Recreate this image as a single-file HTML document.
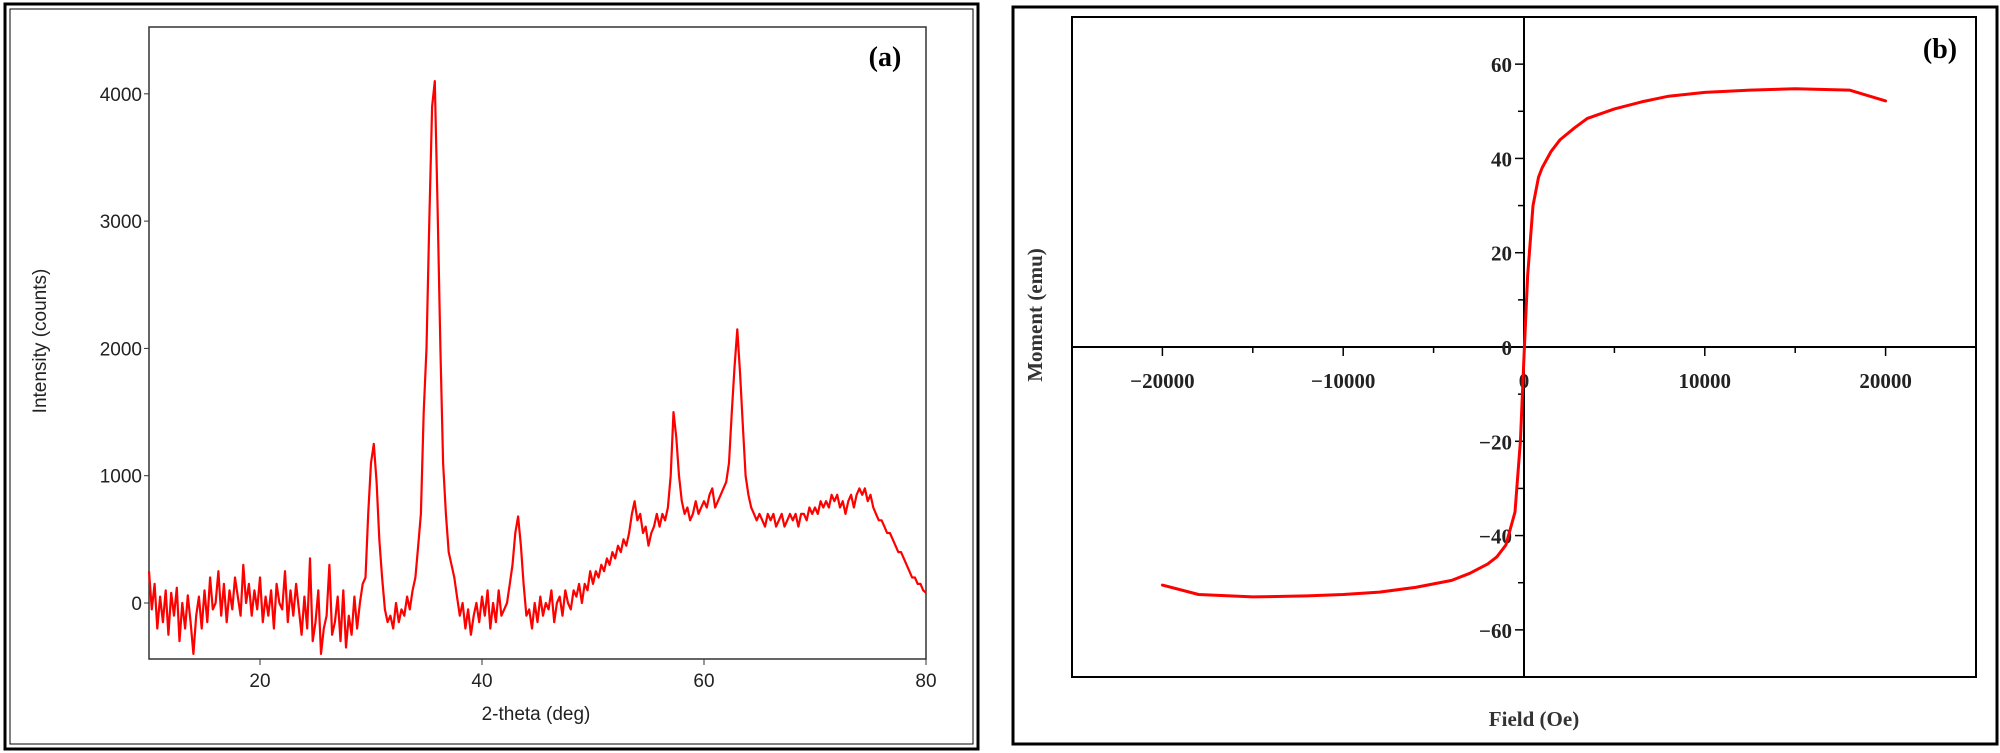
<!DOCTYPE html>
<html><head><meta charset="utf-8"><style>
html,body{margin:0;padding:0;background:#fff;}
svg{display:block;}
</style></head><body>
<svg id="fig" width="2000" height="753" xmlns="http://www.w3.org/2000/svg">
<rect x="0" y="0" width="2000" height="753" fill="#fff"/>
<rect x="5" y="4" width="973" height="745" fill="none" stroke="#000" stroke-width="3"/>
<rect x="10" y="9" width="963" height="735" fill="none" stroke="#000" stroke-width="1"/>
<rect x="1013" y="7" width="984" height="737" fill="none" stroke="#000" stroke-width="3"/>
<g id="ga"></g>
<g id="gb"></g>
</svg>
<script>
// ---- Panel (a) XRD data ----
const xrdStart = 10;
const xrdStep = 0.25;
const xrdIntensity = [
250,-50,150,-200, 50,-150,100,-250, 80,-100,120,-300, 0,-200,60,-150, -400,-100,50,-200,
100,-150,200,-50, 0,250,-100,150, -150,100,-50,200, 50,-100,300,0, 150,-100,100,-50,
200,-150,50,-100, 100,-200,150,0, -50,250,-150,100, -100,150,-50,-250, 50,-200,350,-300,
-150,100,-400,-200, -100,300,-250,-150, 50,-300,100,-350, -100,-250,50,-200, 0,150,200,700,
1100,1250,950,500, 200,-50,-150,-100, -200,0,-150,-50, -100,50,-50,100, 200,450,700,1500,
2000,3000,3900,4100, 3100,2000,1100,700, 400,300,200,50, -100,0,-200,-50, -250,-100,0,-150,
50,-100,100,-200, 0,-150,100,-100, -50,0,150,300, 550,680,450,150, -100,-50,-200,0,
-150,50,-100,0, -50,100,-150,0, 50,-100,100,0, -50,100,50,150, 0,150,100,250,
150,250,200,300, 250,350,300,400, 350,450,400,500, 450,550,700,800, 650,700,550,600,
450,550,600,700, 600,700,650,750, 1000,1500,1300,1000, 800,700,750,650, 700,800,700,750,
800,750,850,900, 750,800,850,900, 950,1100,1500,1850, 2150,1800,1400,1000, 850,750,700,650,
700,650,600,700, 650,700,600,650, 700,600,650,700, 650,700,600,700, 700,650,750,700,
750,700,800,750, 800,750,850,800, 850,750,800,700, 800,850,750,850, 900,850,900,800,
850,750,700,650, 650,600,550,550, 500,450,400,400, 350,300,250,200, 200,150,150,100, 80
];
const xrdXTicks = [20,40,60,80];
const xrdYTicks = [0,1000,2000,3000,4000];

// ---- Panel (b) hysteresis data ----
const fieldOe = [-20000,-18000,-15000,-12000,-10000,-8000,-6000,-4000,-3000,-2000,-1500,-1000,-500,-200,0,200,500,800,1000,1500,2000,2800,3500,5000,6500,8000,10000,12500,15000,18000,20000];
const momentEmu = [-50.5,-52.5,-53,-52.8,-52.5,-52,-51,-49.5,-48,-46,-44.5,-42,-35,-20,-2,15,30,36,38,41.5,44,46.5,48.5,50.5,52,53.2,54,54.5,54.8,54.5,52.2];
const magXTicks = [-20000,-10000,0,10000,20000];
const magYTicks = [-60,-40,-20,0,20,40,60];

const NS='http://www.w3.org/2000/svg';
function mk(tag, attrs, parent){const e=document.createElementNS(NS,tag);for(const k in attrs)e.setAttribute(k,attrs[k]);parent.appendChild(e);return e;}

const aL=149,aR=926,aT=27,aB=659;
const axMin=10,axMax=80,ayMin=-440,ayMax=4525;
const ax=v=>aL+(v-axMin)/(axMax-axMin)*(aR-aL);
const ay=v=>aB-(v-ayMin)/(ayMax-ayMin)*(aB-aT);
const ga=document.getElementById('ga');
let fr=mk('rect',{x:aL,y:aT,width:aR-aL,height:aB-aT,fill:'none',stroke:'#333','stroke-width':1.5},ga);


let d='';
xrdIntensity.forEach((v,i)=>{d+=(i?'L':'M')+ax(xrdStart+i*xrdStep).toFixed(1)+','+ay(v).toFixed(1);});
let ln=mk('path',{d:d,fill:'none',stroke:'#f00','stroke-width':2.2,'stroke-linejoin':'round'},ga);


xrdXTicks.forEach(t=>{
  mk('line',{x1:ax(t),x2:ax(t),y1:aB,y2:aB+6,stroke:'#333'},ga);
  const tx=mk('text',{x:ax(t),y:aB+28,'text-anchor':'middle','font-family':'Liberation Sans, sans-serif','font-size':19,fill:'#222'},ga);
  tx.textContent=t;
  
  
});
xrdYTicks.forEach(t=>{
  mk('line',{x1:aL-5,x2:aL,y1:ay(t),y2:ay(t),stroke:'#333'},ga);
  const tx=mk('text',{x:aL-7,y:ay(t)+7,'text-anchor':'end','font-family':'Liberation Sans, sans-serif','font-size':19,fill:'#222'},ga);
  tx.textContent=t;
  
  
});
let t1=mk('text',{x:536,y:720,'text-anchor':'middle','font-family':'Liberation Sans, sans-serif','font-size':19,fill:'#222'},ga);
t1.textContent='2-theta (deg)';


let t2=mk('text',{x:0,y:0,transform:'translate(46,341) rotate(-90)','text-anchor':'middle','font-family':'Liberation Sans, sans-serif','font-size':19,fill:'#222'},ga);
t2.textContent='Intensity (counts)';


let t3=mk('text',{x:885,y:66,'text-anchor':'middle','font-family':'Liberation Serif, serif','font-size':28,'font-weight':'bold',fill:'#000'},ga);
t3.textContent='(a)';



const bL=1072,bR=1976,bT=17,bB=677;
const bxMin=-25000,bxMax=25000,byMin=-70,byMax=70;
const bx=v=>bL+(v-bxMin)/(bxMax-bxMin)*(bR-bL);
const by=v=>bB-(v-byMin)/(byMax-byMin)*(bB-bT);
const gb=document.getElementById('gb');
let fb=mk('rect',{x:bL,y:bT,width:bR-bL,height:bB-bT,fill:'none',stroke:'#000','stroke-width':2},gb);


mk('line',{x1:bL,x2:bR,y1:by(0),y2:by(0),stroke:'#000','stroke-width':2},gb);
mk('line',{x1:bx(0),x2:bx(0),y1:bT,y2:bB,stroke:'#000','stroke-width':2},gb);
for(let v=-20000;v<=20000;v+=5000){
  mk('line',{x1:bx(v),x2:bx(v),y1:by(0),y2:by(0)+(v%10000===0?9:6),stroke:'#000','stroke-width':1.5},gb);
}
for(let v=-60;v<=60;v+=10){
  mk('line',{x1:bx(0)-(v%20===0?9:6),x2:bx(0),y1:by(v),y2:by(v),stroke:'#000','stroke-width':1.5},gb);
}
magXTicks.forEach(t=>{
  const tx=mk('text',{x:bx(t),y:by(0)+41,'text-anchor':'middle','font-family':'Liberation Serif, serif','font-size':21,'font-weight':'bold',fill:'#222'},gb);
  tx.textContent=t<0?'\u2212'+(-t):String(t);
  
  
});
magYTicks.forEach(t=>{
  const tx=mk('text',{x:bx(0)-12,y:by(t)+8,'text-anchor':'end','font-family':'Liberation Serif, serif','font-size':21,'font-weight':'bold',fill:'#222'},gb);
  tx.textContent=t<0?'\u2212'+(-t):String(t);
  
  
});
let db='';
fieldOe.forEach((h,i)=>{db+=(i?'L':'M')+bx(h).toFixed(1)+','+by(momentEmu[i]).toFixed(1);});
let lb=mk('path',{d:db,fill:'none',stroke:'#f00','stroke-width':3,'stroke-linejoin':'round','stroke-linecap':'round'},gb);


let b1=mk('text',{x:1534,y:726,'text-anchor':'middle','font-family':'Liberation Serif, serif','font-size':21,'font-weight':'bold',fill:'#333'},gb);
b1.textContent='Field (Oe)';


let b2=mk('text',{x:0,y:0,transform:'translate(1042,315) rotate(-90)','text-anchor':'middle','font-family':'Liberation Serif, serif','font-size':21,'font-weight':'bold',fill:'#333'},gb);
b2.textContent='Moment (emu)';


let b3=mk('text',{x:1940,y:58,'text-anchor':'middle','font-family':'Liberation Serif, serif','font-size':28,'font-weight':'bold',fill:'#000'},gb);
b3.textContent='(b)';


</script>
</body></html>
